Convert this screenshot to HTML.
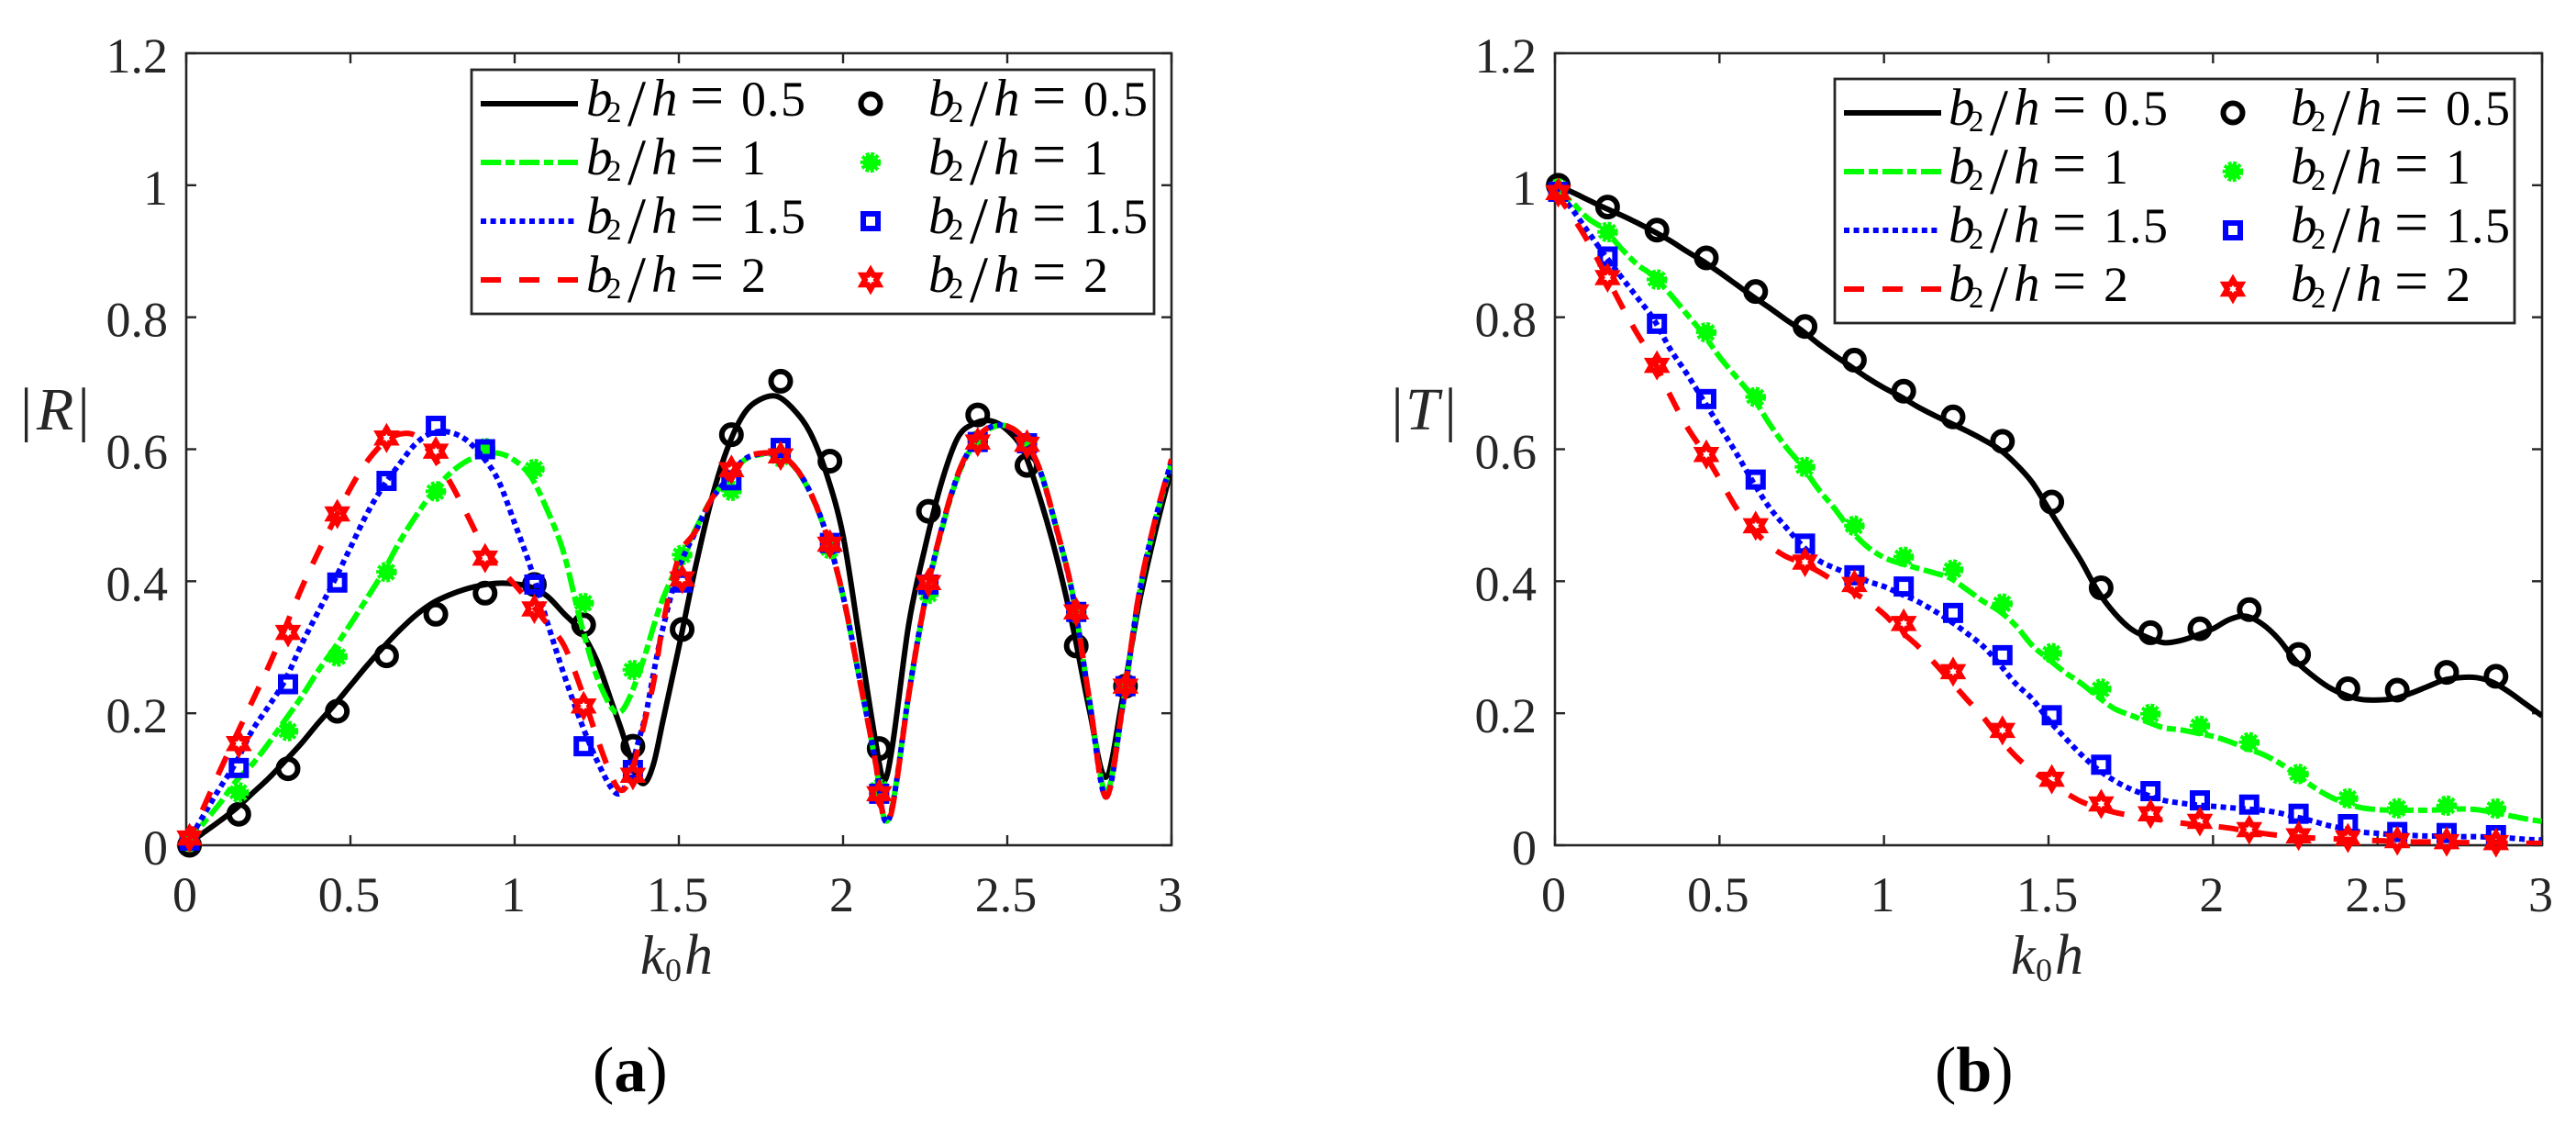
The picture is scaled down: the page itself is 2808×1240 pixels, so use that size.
<!DOCTYPE html>
<html lang="en">
<head>
<meta charset="utf-8">
<title>Reflection and transmission coefficients</title>
<style>
html,body{margin:0;padding:0;background:#fff;}
svg{display:block;}
text{font-family:"Liberation Serif",serif;}
.tick{font-size:54px;fill:#262626;}
.lg{fill:#000;}
.i{font-size:57px;font-style:italic;}
.s{font-size:33px;}
.sl{font-size:72px;}
.eq{font-size:66px;}
.d{font-size:54px;}
.lab{fill:#262626;}
.box{fill:none;stroke:#262626;stroke-width:2.6;}
.lbox{fill:#fff;stroke:#262626;stroke-width:2.8;}
.s1{fill:none;stroke:#000;stroke-width:6;}
.s2{fill:none;stroke:#00ff00;stroke-width:6;stroke-dasharray:22 5 10 5;}
.s3{fill:none;stroke:#0000ff;stroke-width:6;stroke-dasharray:6 4.6;}
.s4{fill:none;stroke:#ff0000;stroke-width:6;stroke-dasharray:22 20;}
.m1{fill:none;stroke:#000;stroke-width:6;}
.m2{fill:#00ff00;stroke:#00ff00;stroke-width:5.5;stroke-dasharray:3.4 1.6;}
.m3{fill:none;stroke:#0000ff;stroke-width:6;}
.m4{fill:none;stroke:#ff0000;stroke-width:6;stroke-miterlimit:4;}
</style>
</head>
<body>
<svg id="figure" width="2808" height="1240" viewBox="0 0 2808 1240" xmlns="http://www.w3.org/2000/svg">
  <rect width="2808" height="1240" fill="#fff"/>
  <defs>
    <clipPath id="clip-a"><rect x="203" y="58" width="1074" height="863"/></clipPath>
    <clipPath id="clip-b"><rect x="1695" y="58" width="1076" height="863"/></clipPath>
  </defs>

  <g id="axes-a"></g>
  <g id="plot-a"></g>
  <g id="axes-b"></g>
  <g id="plot-b"></g>

  <g>
    <text class="lab" font-size="66" y="468"><tspan x="22">|</tspan><tspan x="40" font-style="italic">R</tspan><tspan x="84.5">|</tspan></text>
  </g>
  <g>
    <text class="lab" y="1061"><tspan x="698" font-size="60" font-style="italic">k</tspan><tspan x="725" y="1069" font-size="36">0</tspan><tspan x="746" y="1061" font-size="62" font-style="italic">h</tspan></text>
  </g>
  <g>
    <text class="lab" font-size="66" y="468"><tspan x="1516.5">|</tspan><tspan x="1532" font-style="italic">T</tspan><tspan x="1574.5">|</tspan></text>
  </g>
  <g>
    <text class="lab" y="1061"><tspan x="2192" font-size="60" font-style="italic">k</tspan><tspan x="2219" y="1069" font-size="36">0</tspan><tspan x="2240" y="1061" font-size="62" font-style="italic">h</tspan></text>
  </g>

  <text x="646" y="1189" font-size="70" fill="#000">(<tspan font-weight="bold">a</tspan>)</text>
  <text x="2109" y="1189" font-size="70" fill="#000">(<tspan font-weight="bold">b</tspan>)</text>

  <!-- Legend panel a -->
  <g>
    <rect class="lbox" x="514" y="76" width="744" height="266"/>
    <line class="s1" x1="524" x2="630" y1="113" y2="113"/>
    <line class="s2" x1="524" x2="630" y1="177" y2="177"/>
    <line class="s3" x1="524" x2="630" y1="241" y2="241"/>
    <line class="s4" x1="524" x2="630" y1="305" y2="305"/>
    <circle class="m1" cx="949" cy="113" r="10.5"/>
    <circle class="m2" cx="949" cy="177" r="8.5"/>
    <rect class="m3" x="941" y="233" width="16" height="16"/>
    <polygon class="m4" transform="translate(949,305)" points="0,-10.5 3.03,-5.25 9.09,-5.25 6.06,0 9.09,5.25 3.03,5.25 0,10.5 -3.03,5.25 -9.09,5.25 -6.06,0 -9.09,-5.25 -3.03,-5.25"/>

    <text class="lg" transform="translate(639,113)"><tspan class="i" x="0" y="13">b</tspan><tspan class="s" x="22" y="20">2</tspan><tspan class="sl" x="45" y="24">/</tspan><tspan class="i" x="71" y="13">h</tspan><tspan class="eq" x="113" y="13">=</tspan><tspan class="d" x="169 197 212" y="13">0.5</tspan></text>
    <text class="lg" transform="translate(639,177)"><tspan class="i" x="0" y="13">b</tspan><tspan class="s" x="22" y="20">2</tspan><tspan class="sl" x="45" y="24">/</tspan><tspan class="i" x="71" y="13">h</tspan><tspan class="eq" x="113" y="13">=</tspan><tspan class="d" x="169" y="13">1</tspan></text>
    <text class="lg" transform="translate(639,241)"><tspan class="i" x="0" y="13">b</tspan><tspan class="s" x="22" y="20">2</tspan><tspan class="sl" x="45" y="24">/</tspan><tspan class="i" x="71" y="13">h</tspan><tspan class="eq" x="113" y="13">=</tspan><tspan class="d" x="169 197 212" y="13">1.5</tspan></text>
    <text class="lg" transform="translate(639,305)"><tspan class="i" x="0" y="13">b</tspan><tspan class="s" x="22" y="20">2</tspan><tspan class="sl" x="45" y="24">/</tspan><tspan class="i" x="71" y="13">h</tspan><tspan class="eq" x="113" y="13">=</tspan><tspan class="d" x="169" y="13">2</tspan></text>

    <text class="lg" transform="translate(1012,113)"><tspan class="i" x="0" y="13">b</tspan><tspan class="s" x="22" y="20">2</tspan><tspan class="sl" x="45" y="24">/</tspan><tspan class="i" x="71" y="13">h</tspan><tspan class="eq" x="113" y="13">=</tspan><tspan class="d" x="169 197 212" y="13">0.5</tspan></text>
    <text class="lg" transform="translate(1012,177)"><tspan class="i" x="0" y="13">b</tspan><tspan class="s" x="22" y="20">2</tspan><tspan class="sl" x="45" y="24">/</tspan><tspan class="i" x="71" y="13">h</tspan><tspan class="eq" x="113" y="13">=</tspan><tspan class="d" x="169" y="13">1</tspan></text>
    <text class="lg" transform="translate(1012,241)"><tspan class="i" x="0" y="13">b</tspan><tspan class="s" x="22" y="20">2</tspan><tspan class="sl" x="45" y="24">/</tspan><tspan class="i" x="71" y="13">h</tspan><tspan class="eq" x="113" y="13">=</tspan><tspan class="d" x="169 197 212" y="13">1.5</tspan></text>
    <text class="lg" transform="translate(1012,305)"><tspan class="i" x="0" y="13">b</tspan><tspan class="s" x="22" y="20">2</tspan><tspan class="sl" x="45" y="24">/</tspan><tspan class="i" x="71" y="13">h</tspan><tspan class="eq" x="113" y="13">=</tspan><tspan class="d" x="169" y="13">2</tspan></text>
  </g>

  <!-- Legend panel b -->
  <g>
    <rect class="lbox" x="2000" y="86" width="741" height="266"/>
    <line class="s1" x1="2010" x2="2116" y1="123" y2="123"/>
    <line class="s2" x1="2010" x2="2116" y1="187" y2="187"/>
    <line class="s3" x1="2010" x2="2116" y1="251" y2="251"/>
    <line class="s4" x1="2010" x2="2116" y1="315" y2="315"/>
    <circle class="m1" cx="2434" cy="123" r="10.5"/>
    <circle class="m2" cx="2434" cy="187" r="8.5"/>
    <rect class="m3" x="2426" y="243" width="16" height="16"/>
    <polygon class="m4" transform="translate(2434,315)" points="0,-10.5 3.03,-5.25 9.09,-5.25 6.06,0 9.09,5.25 3.03,5.25 0,10.5 -3.03,5.25 -9.09,5.25 -6.06,0 -9.09,-5.25 -3.03,-5.25"/>

    <text class="lg" transform="translate(2124,123)"><tspan class="i" x="0" y="13">b</tspan><tspan class="s" x="22" y="20">2</tspan><tspan class="sl" x="45" y="24">/</tspan><tspan class="i" x="71" y="13">h</tspan><tspan class="eq" x="113" y="13">=</tspan><tspan class="d" x="169 197 212" y="13">0.5</tspan></text>
    <text class="lg" transform="translate(2124,187)"><tspan class="i" x="0" y="13">b</tspan><tspan class="s" x="22" y="20">2</tspan><tspan class="sl" x="45" y="24">/</tspan><tspan class="i" x="71" y="13">h</tspan><tspan class="eq" x="113" y="13">=</tspan><tspan class="d" x="169" y="13">1</tspan></text>
    <text class="lg" transform="translate(2124,251)"><tspan class="i" x="0" y="13">b</tspan><tspan class="s" x="22" y="20">2</tspan><tspan class="sl" x="45" y="24">/</tspan><tspan class="i" x="71" y="13">h</tspan><tspan class="eq" x="113" y="13">=</tspan><tspan class="d" x="169 197 212" y="13">1.5</tspan></text>
    <text class="lg" transform="translate(2124,315)"><tspan class="i" x="0" y="13">b</tspan><tspan class="s" x="22" y="20">2</tspan><tspan class="sl" x="45" y="24">/</tspan><tspan class="i" x="71" y="13">h</tspan><tspan class="eq" x="113" y="13">=</tspan><tspan class="d" x="169" y="13">2</tspan></text>

    <text class="lg" transform="translate(2497,123)"><tspan class="i" x="0" y="13">b</tspan><tspan class="s" x="22" y="20">2</tspan><tspan class="sl" x="45" y="24">/</tspan><tspan class="i" x="71" y="13">h</tspan><tspan class="eq" x="113" y="13">=</tspan><tspan class="d" x="169 197 212" y="13">0.5</tspan></text>
    <text class="lg" transform="translate(2497,187)"><tspan class="i" x="0" y="13">b</tspan><tspan class="s" x="22" y="20">2</tspan><tspan class="sl" x="45" y="24">/</tspan><tspan class="i" x="71" y="13">h</tspan><tspan class="eq" x="113" y="13">=</tspan><tspan class="d" x="169" y="13">1</tspan></text>
    <text class="lg" transform="translate(2497,251)"><tspan class="i" x="0" y="13">b</tspan><tspan class="s" x="22" y="20">2</tspan><tspan class="sl" x="45" y="24">/</tspan><tspan class="i" x="71" y="13">h</tspan><tspan class="eq" x="113" y="13">=</tspan><tspan class="d" x="169 197 212" y="13">1.5</tspan></text>
    <text class="lg" transform="translate(2497,315)"><tspan class="i" x="0" y="13">b</tspan><tspan class="s" x="22" y="20">2</tspan><tspan class="sl" x="45" y="24">/</tspan><tspan class="i" x="71" y="13">h</tspan><tspan class="eq" x="113" y="13">=</tspan><tspan class="d" x="169" y="13">2</tspan></text>
  </g>
</svg>

<script>
// Tick labels
const xTickValues = [0, 0.5, 1, 1.5, 2, 2.5, 3];
const yTickValues = [0, 0.2, 0.4, 0.6, 0.8, 1, 1.2];

// Wave-number samples for solid/dashed curves
const lineXA = [0,.05,.1,.15,.2,.25,.3,.35,.4,.45,.5,.55,.6,.65,.7,.75,.8,.85,.9,.95,1,1.05,1.1,1.15,1.2,1.25,1.3,1.325,1.35,1.375,1.4,1.425,1.45,1.5,1.55,1.6,1.65,1.7,1.75,1.8,1.85,1.9,1.95,2,2.05,2.1,2.125,2.15,2.2,2.25,2.3,2.35,2.4,2.45,2.5,2.55,2.6,2.65,2.7,2.75,2.8,2.85,2.9,2.95,3];
const lineXB = [0,.05,.1,.15,.2,.25,.3,.35,.4,.45,.5,.55,.6,.65,.7,.75,.8,.85,.9,.95,1,1.05,1.1,1.15,1.2,1.25,1.3,1.35,1.4,1.45,1.5,1.55,1.6,1.65,1.7,1.75,1.8,1.85,1.9,1.95,2,2.05,2.1,2.15,2.2,2.25,2.3,2.35,2.4,2.45,2.5,2.55,2.6,2.65,2.7,2.75,2.8,2.85,2.9,2.95,3];
const markerX = [.01,.16,.31,.46,.61,.76,.91,1.06,1.21,1.36,1.51,1.66,1.81,1.96,2.11,2.26,2.41,2.56,2.71,2.86];

// Panel (a) |R| curves
const lineR05 = [0,.018,.036,.055,.078,.101,.127,.154,.184,.212,.242,.272,.3,.326,.349,.367,.379,.388,.394,.397,.396,.391,.377,.351,.325,.28,.21,.175,.136,.1,.096,.127,.185,.3,.42,.525,.604,.655,.676,.68,.66,.625,.562,.469,.312,.154,.098,.15,.335,.452,.55,.618,.639,.643,.629,.597,.525,.437,.33,.205,.103,.22,.363,.474,.571];
const lineR1 = [0,.032,.062,.096,.122,.154,.189,.224,.263,.298,.335,.374,.414,.46,.4995,.534,.562,.581,.591,.594,.583,.558,.507,.442,.34,.256,.205,.203,.224,.256,.293,.335,.372,.428,.478,.525,.556,.584,.592,.591,.574,.534,.47,.377,.252,.122,.041,.06,.228,.37,.477,.56,.609,.632,.635,.616,.568,.48,.378,.22,.08,.205,.375,.49,.58];
const lineR15 = [0,.043,.085,.124,.173,.21,.249,.303,.352,.4,.451,.502,.544,.578,.609,.625,.626,.615,.59,.553,.488,.419,.337,.259,.189,.129,.083,.08,.108,.154,.2,.266,.326,.419,.474,.524,.556,.585,.593,.593,.575,.535,.471,.378,.253,.123,.04,.058,.229,.372,.479,.562,.611,.634,.634,.615,.567,.479,.377,.22,.073,.206,.377,.492,.583];
const lineR2 = [0,.054,.11,.164,.217,.27,.328,.388,.442,.492,.541,.581,.609,.623,.62,.59,.553,.506,.457,.423,.395,.366,.335,.303,.24,.164,.099,.083,.099,.145,.196,.252,.331,.437,.475,.525,.557,.586,.594,.592,.575,.535,.47,.378,.252,.122,.039,.056,.228,.372,.48,.563,.612,.635,.635,.616,.568,.48,.378,.221,.073,.207,.378,.493,.585];

// Panel (a) |R| markers
const markR05 = [.0,.047,.116,.203,.287,.35,.382,.395,.334,.15,.327,.622,.703,.582,.1465,.506,.652,.5755,.302,.241];
const markR1 = [.005,.08,.173,.286,.414,.536,.6015,.57,.367,.2655,.44,.537,.588,.449,.085,.381,.613,.609,.352,.2405];
const markR15 = [.007,.117,.244,.398,.552,.6355,.6,.395,.15,.114,.398,.553,.602,.458,.078,.395,.611,.609,.3535,.241];
const markR2 = [.011,.154,.3225,.502,.617,.597,.435,.358,.211,.106,.4035,.569,.59,.456,.078,.398,.611,.6075,.3535,.241];

// Panel (b) |T| curves
const lineT05 = [1,.99,.978,.966,.955,.943,.93,.916,.9,.885,.868,.85,.832,.815,.797,.78,.76,.742,.725,.708,.693,.68,.665,.652,.64,.628,.615,.6,.578,.55,.51,.47,.43,.385,.352,.328,.315,.307,.31,.318,.328,.342,.347,.335,.312,.28,.258,.24,.228,.221,.22,.222,.23,.24,.25,.254,.254,.247,.232,.214,.196];
const lineT1 = [.995,.975,.95,.933,.905,.88,.862,.835,.805,.775,.74,.71,.68,.64,.605,.575,.54,.51,.477,.452,.436,.427,.42,.413,.405,.388,.37,.355,.333,.303,.282,.262,.245,.225,.207,.197,.187,.178,.175,.17,.165,.157,.147,.138,.125,.108,.09,.075,.064,.057,.054,.053,.053,.053,.054,.055,.054,.05,.045,.04,.036];
const lineT15 = [.995,.965,.93,.895,.862,.83,.797,.752,.715,.675,.635,.595,.552,.513,.483,.455,.432,.42,.41,.4,.392,.381,.37,.356,.34,.322,.302,.275,.245,.222,.19,.163,.137,.115,.098,.085,.076,.068,.064,.061,.059,.057,.055,.053,.049,.043,.037,.03,.025,.02,.018,.016,.015,.014,.014,.013,.013,.012,.011,.009,.008];
const lineT2 = [.99,.955,.915,.868,.82,.775,.735,.682,.635,.597,.555,.512,.48,.455,.438,.428,.415,.4,.385,.37,.35,.325,.303,.278,.25,.222,.195,.163,.135,.113,.096,.08,.066,.057,.05,.045,.041,.038,.034,.031,.029,.026,.022,.018,.015,.013,.011,.01,.009,.008,.007,.006,.005,.005,.005,.004,.004,.004,.003,.003,.003];

// Panel (b) |T| markers
const markT05 = [1,.967,.932,.89,.839,.786,.735,.688,.649,.612,.52,.39,.322,.328,.357,.289,.237,.235,.262,.256];
const markT1 = [.995,.929,.857,.777,.679,.573,.484,.437,.4176,.366,.291,.237,.199,.181,.156,.108,.071,.056,.06,.0556];
const markT15 = [.99,.892,.79,.676,.554,.457,.409,.392,.352,.288,.197,.122,.082,.068,.0616,.0477,.032,.02,.0185,.0153];
const markT2 = [.989,.86,.727,.592,.484,.429,.395,.336,.263,.174,.1,.0625,.0477,.0361,.0236,.0143,.011,.007,.0054,.004];

const SVGNS = 'http://www.w3.org/2000/svg';
const HEX_POINTS = '0,-10.5 3.03,-5.25 9.09,-5.25 6.06,0 9.09,5.25 3.03,5.25 0,10.5 -3.03,5.25 -9.09,5.25 -6.06,0 -9.09,-5.25 -3.03,-5.25';

function makeEl(parent, tag) {
  const el = document.createElementNS(SVGNS, tag);
  parent.appendChild(el);
  return el;
}

function buildAxes(group, sx, sy, L, R, T, B) {
  const box = makeEl(group, 'rect');
  
  
  box.setAttribute('class', 'box');
  box.setAttribute('x', L);
  box.setAttribute('y', T);
  box.setAttribute('width', R - L);
  box.setAttribute('height', B - T);

  xTickValues.forEach(function (v) {
    const px = sx(v);
    [[B, B - 11], [T, T + 11]].forEach(function (pair) {
      const tk = makeEl(group, 'line');
      
      
      tk.setAttribute('x1', px);
      tk.setAttribute('x2', px);
      tk.setAttribute('y1', pair[0]);
      tk.setAttribute('y2', pair[1]);
      tk.setAttribute('stroke', '#262626');
      tk.setAttribute('stroke-width', '2.4');
    });
    const lb = makeEl(group, 'text');
    
    
    lb.setAttribute('class', 'tick');
    lb.setAttribute('x', px - 1.5);
    lb.setAttribute('y', 993);
    lb.setAttribute('text-anchor', 'middle');
    lb.textContent = String(v);
  });

  yTickValues.forEach(function (v) {
    const py = sy(v);
    [[L, L + 11], [R, R - 11]].forEach(function (pair) {
      const tk = makeEl(group, 'line');
      
      
      tk.setAttribute('x1', pair[0]);
      tk.setAttribute('x2', pair[1]);
      tk.setAttribute('y1', py);
      tk.setAttribute('y2', py);
      tk.setAttribute('stroke', '#262626');
      tk.setAttribute('stroke-width', '2.4');
    });
    const lb = makeEl(group, 'text');
    
    
    lb.setAttribute('class', 'tick');
    lb.setAttribute('x', L - 20);
    lb.setAttribute('y', py + 21);
    lb.setAttribute('text-anchor', 'end');
    lb.textContent = String(v);
  });
}

function curvePath(xs, ys, sx, sy) {
  const n = xs.length;
  const px = xs.map(sx);
  const py = ys.map(sy);
  const m = px.map(function (_, i) {
    const a = Math.max(0, i - 1);
    const b = Math.min(n - 1, i + 1);
    return (py[b] - py[a]) / (px[b] - px[a]);
  });
  let d = 'M' + px[0].toFixed(2) + ' ' + py[0].toFixed(2);
  for (let i = 0; i < n - 1; i++) {
    const h = (px[i + 1] - px[i]) / 3;
    d += 'C' + (px[i] + h).toFixed(2) + ' ' + (py[i] + m[i] * h).toFixed(2) + ' ' +
         (px[i + 1] - h).toFixed(2) + ' ' + (py[i + 1] - m[i + 1] * h).toFixed(2) + ' ' +
         px[i + 1].toFixed(2) + ' ' + py[i + 1].toFixed(2);
  }
  return d;
}

function drawLine(group, clipId, cls, xs, ys, sx, sy) {
  const p = makeEl(group, 'path');
  
  
  p.setAttribute('class', cls);
  p.setAttribute('clip-path', 'url(#' + clipId + ')');
  p.setAttribute('d', curvePath(xs, ys, sx, sy));
}

function drawMarkers(group, kind, ys, sx, sy) {
  markerX.forEach(function (xv, i) {
    const cx = sx(xv);
    const cy = sy(ys[i]);
    let el;
    if (kind === 1) {
      el = makeEl(group, 'circle');
      
      
      el.setAttribute('class', 'm1');
      el.setAttribute('cx', cx);
      el.setAttribute('cy', cy);
      el.setAttribute('r', 10.5);
    } else if (kind === 2) {
      el = makeEl(group, 'circle');
      
      
      el.setAttribute('class', 'm2');
      el.setAttribute('cx', cx);
      el.setAttribute('cy', cy);
      el.setAttribute('r', 8.5);
    } else if (kind === 3) {
      el = makeEl(group, 'rect');
      
      
      el.setAttribute('class', 'm3');
      el.setAttribute('x', cx - 8);
      el.setAttribute('y', cy - 8);
      el.setAttribute('width', 16);
      el.setAttribute('height', 16);
    } else {
      el = makeEl(group, 'polygon');
      
      
      el.setAttribute('class', 'm4');
      el.setAttribute('points', HEX_POINTS);
      el.setAttribute('transform', 'translate(' + cx + ',' + cy + ')');
    }
  });
}

function drawPanel(axesId, plotId, clipId, L, R, T, B, lx, lines, marks) {
  const sx = function (v) { return L + (R - L) * v / 3; };
  const sy = function (v) { return B - (B - T) * v / 1.2; };
  buildAxes(document.getElementById(axesId), sx, sy, L, R, T, B);
  const plot = document.getElementById(plotId);
  const classes = ['s1', 's2', 's3', 's4'];
  for (let k = 0; k < 4; k++) {
    drawLine(plot, clipId, classes[k], lx, lines[k], sx, sy);
    drawMarkers(plot, k + 1, marks[k], sx, sy);
  }
}

drawPanel('axes-a', 'plot-a', 'clip-a', 203, 1277, 58, 921, lineXA,
  [lineR05, lineR1, lineR15, lineR2], [markR05, markR1, markR15, markR2]);
drawPanel('axes-b', 'plot-b', 'clip-b', 1695, 2771, 58, 921, lineXB,
  [lineT05, lineT1, lineT15, lineT2], [markT05, markT1, markT15, markT2]);
</script>
</body>
</html>
